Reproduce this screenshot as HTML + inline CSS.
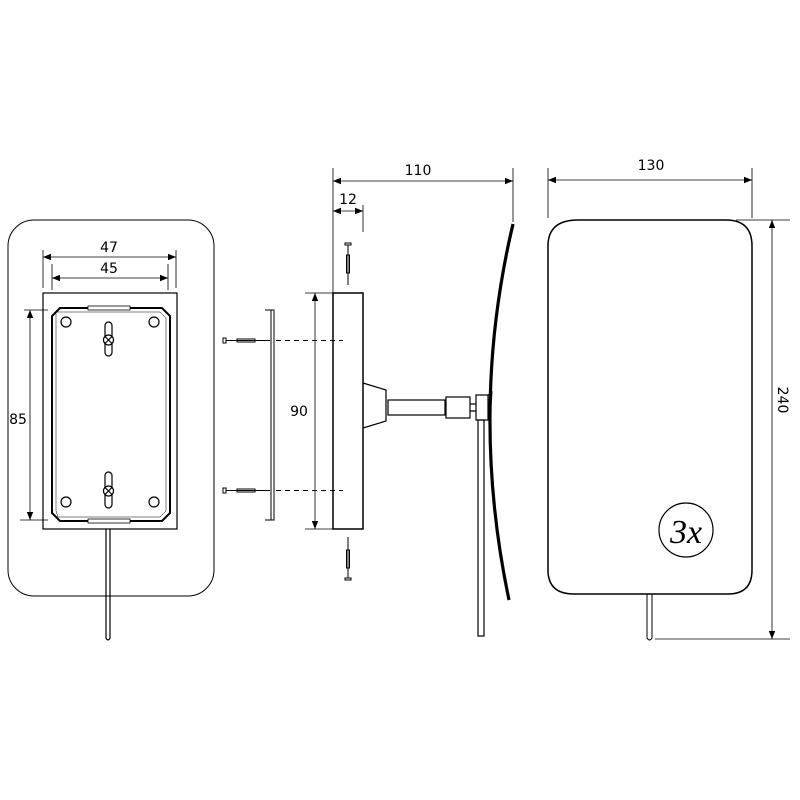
<!DOCTYPE html>
<html><head><style>html,body{margin:0;padding:0;background:#fff}svg{display:block}</style></head>
<body>
<svg width="800" height="800" viewBox="0 0 800 800" xmlns="http://www.w3.org/2000/svg" font-family="'DejaVu Sans','Liberation Sans',sans-serif" font-size="14">
<defs>
<marker id="a" viewBox="0 0 10 10" refX="10" refY="5" markerWidth="8" markerHeight="8" orient="auto-start-reverse" markerUnits="userSpaceOnUse"><path d="M0,1 L10,5 L0,9z" fill="#000"/></marker>
</defs>
<g fill="none" stroke="#000" stroke-width="1.2">
<!-- LEFT VIEW -->
<rect x="8" y="220" width="206" height="376" rx="26" stroke-width="1"/>
<rect x="43" y="293" width="134" height="236" fill="#fff"/>
<path d="M60,308 L162,308 L170,316 L170,513 L162,521 L60,521 L52,513 L52,316 Z" stroke-width="2"/>
<path d="M56,312 L160,312 L166,318 L166,511 L160,517 L58,517 L56,511Z" stroke-width="0.5"/>
<rect x="88" y="306" width="42" height="4" stroke-width="0.8" fill="#fff"/>
<rect x="88" y="519" width="42" height="4" stroke-width="0.8" fill="#fff"/>
<circle cx="66" cy="322" r="5"/><circle cx="154" cy="322" r="5"/>
<circle cx="66" cy="502" r="5"/><circle cx="154" cy="502" r="5"/>
<rect x="105" y="322" width="7" height="34" rx="3.5"/>
<rect x="105" y="472" width="7" height="36" rx="3.5"/>
<circle cx="108.5" cy="340" r="5" fill="#fff"/><path d="M105,336.5l7,7M112,336.5l-7,7"/>
<circle cx="108.5" cy="491" r="5" fill="#fff"/><path d="M105,487.5l7,7M112,487.5l-7,7"/>
<path d="M106,529 L106,638 Q108,642 110,638 L110,529"/>
<path d="M43,250V288M176,250V288M52,264V290M168,264V290" stroke-width="0.8"/>
<line x1="43" y1="257" x2="176" y2="257" marker-start="url(#a)" marker-end="url(#a)" stroke-width="0.8"/>
<line x1="52" y1="278" x2="168" y2="278" marker-start="url(#a)" marker-end="url(#a)" stroke-width="0.8"/>
<path d="M24,310H48M20,520H48" stroke-width="0.8"/>
<line x1="30" y1="310" x2="30" y2="520" marker-start="url(#a)" marker-end="url(#a)" stroke-width="0.8"/>
<!-- MIDDLE -->
<rect x="333" y="293" width="30" height="236" stroke-width="1.5"/>
<path d="M363,383 L386,390 L386,421 L363,428" stroke-width="1.2"/>
<rect x="388" y="400" width="57" height="15"/>
<rect x="446" y="397" width="24" height="21"/>
<path d="M470,404h6M470,411h6"/>
<rect x="476" y="395" width="12" height="25"/>
<path d="M488,395 L492,392 L490,420 L488,420" stroke-width="1"/>
<path d="M513,224 Q469,410 509,600" stroke-width="3.2"/>
<rect x="478" y="420" width="6" height="216"/>
<path d="M265,310h9v210h-9M271,310v210" stroke-width="1"/>
<g stroke-width="1">
<rect x="223" y="338" width="3" height="5"/><path d="M226,340.5H270"/><rect x="237" y="339" width="18" height="3"/>
<rect x="223" y="488" width="3" height="5"/><path d="M226,490.5H270"/><rect x="237" y="489" width="18" height="3"/>
<rect x="345" y="243" width="6" height="2"/><path d="M348,245V285"/><rect x="346.5" y="255" width="3" height="18"/>
<rect x="345" y="578" width="6" height="2"/><path d="M348,578V537"/><rect x="346.5" y="550" width="3" height="18"/>
</g>
<path d="M276,340.5H343M276,490.5H343" stroke-dasharray="5,4" stroke-width="1"/>
<path d="M305,293H333M305,529H333" stroke-width="0.8"/>
<line x1="315" y1="293" x2="315" y2="529" marker-start="url(#a)" marker-end="url(#a)" stroke-width="0.8"/>
<path d="M333,168V293M513,168V222M363,205V232" stroke-width="0.8"/>
<line x1="333" y1="181" x2="513" y2="181" marker-start="url(#a)" marker-end="url(#a)" stroke-width="0.8"/>
<line x1="333" y1="211" x2="363" y2="211" marker-start="url(#a)" marker-end="url(#a)" stroke-width="0.8"/>
<!-- RIGHT -->
<path d="M578,220 H726 Q752,220 752,246 V570 Q752,594 728,594 H574 Q548,594 548,570 V246 Q548,220 578,220Z" stroke-width="1.5"/>
<path d="M647,594V638Q649.5,642 652,638V594" stroke-width="1"/>
<circle cx="686" cy="530" r="27" stroke-width="1.2"/>
<path d="M548,168V218M752,168V218M736,220H790M655,639H790" stroke-width="0.8"/>
<line x1="548" y1="180" x2="752" y2="180" marker-start="url(#a)" marker-end="url(#a)" stroke-width="0.8"/>
<line x1="772" y1="220" x2="772" y2="639" marker-start="url(#a)" marker-end="url(#a)" stroke-width="0.8"/>
</g>
<g fill="#000" text-anchor="middle">
<text x="109" y="252">47</text>
<text x="109" y="273">45</text>
<text x="18" y="424">85</text>
<text x="299" y="416">90</text>
<text x="418" y="175">110</text>
<text x="348" y="204">12</text>
<text x="651" y="170">130</text>
<text x="783" y="400" transform="rotate(90 783 400)" dy="5">240</text>
<text x="686" y="543" font-family="'Liberation Serif',serif" font-size="34" font-style="italic">3x</text>
</g>
</svg>
</body></html>
